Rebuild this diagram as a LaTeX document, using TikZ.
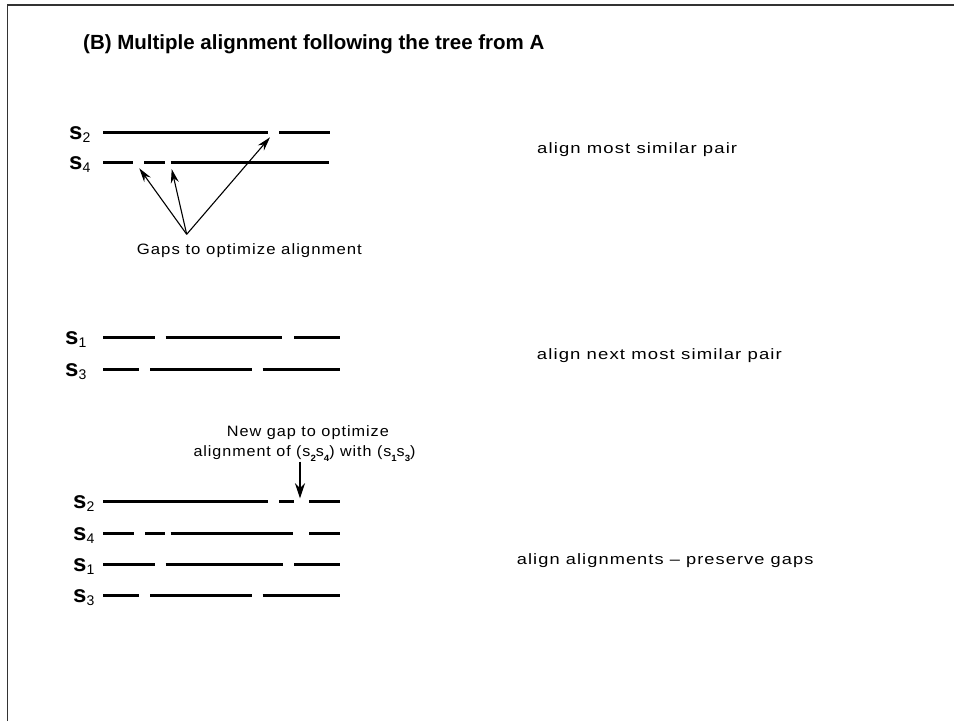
\documentclass[tikz,border=0pt]{standalone}
\usepackage{fontspec}
\setmainfont{Liberation Sans}
\newfontfamily\txtfont[LetterSpace=6]{Liberation Sans}
\usetikzlibrary{arrows.meta}
\newsavebox\fitbox
\newcommand\fitw[2]{\sbox\fitbox{#2}\pgfmathsetmacro\fitfac{#1/\the\wd\fitbox}\scalebox{\fitfac}[1]{\usebox\fitbox}}
\newcommand\seqlab[1]{{\fontsize{24}{24}\selectfont\bfseries s}\raisebox{-2.5pt}{\fontsize{14}{14}\selectfont #1}}
\newcommand\nsub[1]{\raisebox{-5pt}{\fontsize{9}{9}\selectfont\bfseries #1}}
\newcommand\seqrow[2]{\foreach \a/\b in {#2} {\draw[bar] (\a,#1) -- (\b,#1);}}
\begin{document}
\begin{tikzpicture}[x=1pt,y=-1pt,
  bar/.style={line width=2.6pt},
  ptr/.style={line width=1.1pt,-{Stealth[length=14pt,width=8pt]}},
  ptrb/.style={line width=1.8pt,-{Stealth[length=15pt,width=10pt]}},
  lab/.style={anchor=base west,inner sep=0pt},
  note/.style={anchor=base west,inner sep=0pt,font={\txtfont\fontsize{15}{18}\selectfont}},
  frame/.style={line width=1.6pt,draw=black!80}]
\useasboundingbox (0,0) rectangle (954,721);
\draw[frame] (7.5,721) -- (7.5,5) -- (954,5);

\node[lab,font={\fontsize{20.5}{24}\selectfont\bfseries}] (title) at (83,49.5) {(B) Multiple alignment following the tree from A};

% group 1
\node[lab] (g1s2) at (69,139.8) {\seqlab{2}};
\node[lab] (g1s4) at (69,169.8) {\seqlab{4}};
\seqrow{132.3}{103.3/268.3,279.3/330}
\seqrow{162.3}{103.3/133.3,144.3/165,170.7/329.3}
\coordinate (g1o) at (186.7,234.3);
\coordinate (g1a) at (139.3,168.3);
\coordinate (g1b) at (171.7,169);
\coordinate (g1c) at (270,137.3);
\draw[ptr] (g1o) -- (g1a);
\draw[ptr] (g1o) -- (g1b);
\draw[ptr] (g1o) -- (g1c);
\node[note] (gaps) at (136.7,254) {\fitw{225}{Gaps to optimize alignment}};
\node[note] (t1) at (537,153) {\fitw{200}{align most similar pair}};

% group 2
\node[lab] (g2s1) at (65,344.8) {\seqlab{1}};
\node[lab] (g2s3) at (65,376.8) {\seqlab{3}};
\seqrow{337.3}{103.3/155,165.7/282.3,294/340}
\seqrow{369.3}{103.3/139,150/252.3,262.7/340}
\node[note] (t2) at (536.7,359) {\fitw{245}{align next most similar pair}};

% group 3
\node[note] (ng1) at (226.7,436) {\fitw{162}{New gap to optimize}};
\node[note] (ng2) at (193.3,456.7) {\fitw{222}{alignment of (s\nsub{2}s\nsub{4}) with (s\nsub{1}s\nsub{3})}};
\coordinate (g3o) at (300,461.7);
\coordinate (g3t) at (300,498.3);
\draw[ptrb] (g3o) -- (g3t);
\node[lab] (g3s2) at (73,508.8) {\seqlab{2}};
\node[lab] (g3s4) at (73,540.8) {\seqlab{4}};
\node[lab] (g3s1) at (73,571.8) {\seqlab{1}};
\node[lab] (g3s3) at (73,602.8) {\seqlab{3}};
\seqrow{501.3}{103.3/268.3,279.3/294,309.3/340}
\seqrow{533.3}{103.3/134,145/165,170.7/293.3,309.3/340}
\seqrow{564.3}{103.3/155,165.7/283.3,294/340}
\seqrow{595.3}{103.3/139,150/252.3,262.7/340}
\node[note] (t3) at (516.7,564) {\fitw{296.6}{align alignments – preserve gaps}};
\end{tikzpicture}
\end{document}
